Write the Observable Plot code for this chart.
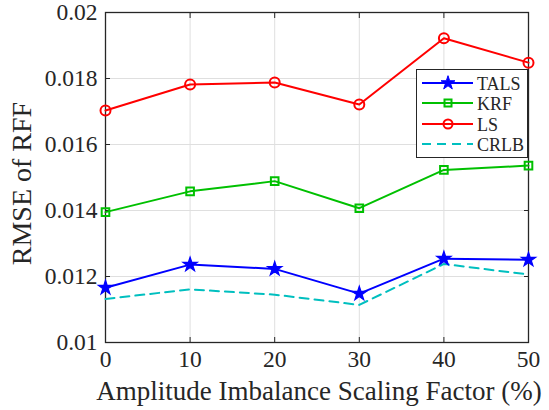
<!DOCTYPE html>
<html><head><meta charset="utf-8">
<script src="https://cdn.jsdelivr.net/npm/d3@7"></script>
<script src="https://cdn.jsdelivr.net/npm/@observablehq/plot@0.6"></script>
<style>
body{margin:0;background:#fff;}
#wrap{position:relative;width:549px;height:410px;}
#wrap svg, #wrap svg text{font-family:"Liberation Serif",serif;}
#legend{position:absolute;left:416px;top:69px;width:110px;height:87px;border:1.2px solid #262626;background:#fff;}
</style></head>
<body><div id="wrap"></div>
<script>
const factors = [0, 10, 20, 30, 40, 50];
const talsValues = [0.01166, 0.01236, 0.01223, 0.01148, 0.01254, 0.01251];
const krfValues  = [0.01395, 0.01458, 0.01489, 0.01407, 0.01523, 0.01536];
const lsValues   = [0.01703, 0.01782, 0.01788, 0.01721, 0.01922, 0.01848];
const crlbValues = [0.01132, 0.01161, 0.01145, 0.01114, 0.01238, 0.01206];
const xTicks = [0, 10, 20, 30, 40, 50];
const yTicks = [0.01, 0.012, 0.014, 0.016, 0.018, 0.02];
const seriesNames = ["TALS", "KRF", "LS", "CRLB"];
const seriesColors = ["#0000ff", "#00c000", "#ff0000", "#00bfbf"];
const xLabel = "Amplitude Imbalance Scaling Factor (%)";
const yLabel = "RMSE of RFF";

const toRows = (vals) => factors.map((f, i) => ({x: f, y: vals[i]}));
const tals = toRows(talsValues), krf = toRows(krfValues), ls = toRows(lsValues), crlb = toRows(crlbValues);
const font = "Liberation Serif";
const ink = "#262626";
const fmt = d => String(+d.toFixed(3));

const chart = Plot.plot({
  width: 549, height: 410,
  marginLeft: 105, marginRight: 21, marginTop: 12, marginBottom: 68,
  style: "font-family:'Liberation Serif',serif;font-size:23px;color:#262626;background:#fff;",
  x: {domain: [0, 50]},
  y: {domain: [0.01, 0.02]},
  marks: [
    Plot.gridX(xTicks, {stroke: "#dfdfdf", strokeOpacity: 1}),
    Plot.gridY(yTicks, {stroke: "#dfdfdf", strokeOpacity: 1}),
    Plot.axisX(xTicks, {tickSize: 0, tickPadding: 8, fontSize: 23.5, fontFamily: font, fill: ink, label: null}),
    Plot.axisX(xTicks, {anchor: "bottom", tickSize: -5, tickFormat: () => "", stroke: ink, label: null}),
    Plot.axisX(xTicks, {anchor: "top", tickSize: -5, tickFormat: () => "", stroke: ink, label: null}),
    Plot.axisY(yTicks, {tickSize: 0, tickPadding: 8, tickFormat: fmt, fontSize: 23.5, fontFamily: font, fill: ink, label: null}),
    Plot.axisY(yTicks, {anchor: "left", tickSize: -5, tickFormat: () => "", stroke: ink, label: null}),
    Plot.axisY(yTicks, {anchor: "right", tickSize: -5, tickFormat: () => "", stroke: ink, label: null}),
    Plot.frame({stroke: ink, strokeWidth: 1.3}),
    Plot.text([xLabel], {frameAnchor: "bottom", lineAnchor: "middle", textAnchor: "middle", dy: 49, dx: 2, fontSize: 27, fontFamily: font, fill: ink}),
    Plot.text([yLabel], {frameAnchor: "left", lineAnchor: "middle", textAnchor: "middle", dx: -83, dy: 6, rotate: -90, fontSize: 28, fontFamily: font, fill: ink}),
    Plot.line(crlb, {x: "x", y: "y", stroke: seriesColors[3], strokeWidth: 2, strokeDasharray: "9,6"}),
    Plot.line(tals, {x: "x", y: "y", stroke: seriesColors[0], strokeWidth: 2}),
    Plot.dot(tals, {x: "x", y: "y", symbol: "star", r: 4.5, stroke: seriesColors[0], fill: seriesColors[0], strokeWidth: 1.2}),
    Plot.line(krf, {x: "x", y: "y", stroke: seriesColors[1], strokeWidth: 2}),
    Plot.dot(krf, {x: "x", y: "y", symbol: "square", r: 4.3, stroke: seriesColors[1], fill: "none", strokeWidth: 2}),
    Plot.line(ls, {x: "x", y: "y", stroke: seriesColors[2], strokeWidth: 2}),
    Plot.dot(ls, {x: "x", y: "y", symbol: "circle", r: 5, stroke: seriesColors[2], fill: "none", strokeWidth: 2})
  ]
});
const wrap = document.getElementById("wrap");
wrap.appendChild(chart);

// legend
const lg = document.createElement("div");
lg.id = "legend";
const rowsY = [13, 33, 54, 74];
const symbolsSvg = [
  c => `<path d="${d3.symbol(d3.symbolStar, 60)()}" fill="${c}" stroke="${c}"/>`,
  c => `<rect x="-3.5" y="-3.5" width="7" height="7" fill="none" stroke="${c}" stroke-width="2"/>`,
  c => `<circle r="4.5" fill="none" stroke="${c}" stroke-width="2"/>`,
  c => ``
];
let html = `<svg width="110" height="87" style="position:absolute;left:0;top:0">`;
seriesNames.forEach((n, i) => {
  const dash = i === 3 ? ` stroke-dasharray="9,6"` : "";
  html += `<g transform="translate(0,${rowsY[i]})"><line x1="5" x2="56" y1="0" y2="0" stroke="${seriesColors[i]}" stroke-width="2"${dash}/>`;
  html += `<g transform="translate(31,0)">${symbolsSvg[i](seriesColors[i])}</g>`;
  html += `<text x="60" y="6.5" font-family="${font}" font-size="18" fill="${ink}">${n}</text></g>`;
});
html += `</svg>`;
lg.innerHTML = html;
wrap.appendChild(lg);
</script></body></html>
